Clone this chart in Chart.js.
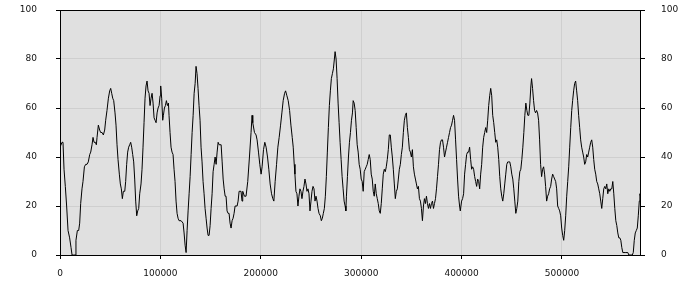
<!DOCTYPE html>
<html>
<head>
<meta charset="utf-8">
<script src="https://cdn.jsdelivr.net/npm/chart.js@4"></script>
<style>
html,body{margin:0;padding:0;background:#fff;}
#c{display:block;}
</style>
</head>
<body>
<canvas id="c" width="700" height="300"></canvas>
<script>
// x positions (data units) and values
const xValues = [
0,2000,3000,4000,5300,6600,8000,9600,11000,12000,13600,15000,15900,17300,18600,19600,20600,21900,22900,24300,
25600,26900,28200,29600,30600,31900,32900,33900,35200,36200,36900,38200,39500,40500,41900,43200,44500,45500,46800,48200,
49500,50500,51500,52500,53500,54800,55800,56800,57800,59100,60100,61100,62100,63100,64500,65400,66400,67400,68400,69400,
70400,71400,72400,73400,74400,75400,76400,77400,78400,79400,80700,81700,82700,83700,84700,85700,86700,87700,88700,89700,
90700,91700,92700,93700,94700,95700,96700,97700,98700,99700,100300,101300,102300,103000,104000,105000,106000,107000,108000,108600,
109600,110600,111600,112600,113600,114600,115600,116600,117600,118600,120600,122600,123600,124600,125600,126600,127600,128600,129600,130600,
131600,132600,133600,134600,135500,136500,137500,138500,139500,140500,141500,142500,143500,144500,145500,146500,147500,148500,149500,150500,
151500,152500,153500,154500,155500,156500,157500,158500,160500,161500,162500,163500,164500,165400,166400,167400,168400,169400,170400,171400,
172400,173400,174400,176400,177400,178400,180300,181300,182000,183700,185300,187000,188700,190300,191300,192000,193700,195300,196300,197700,
199000,200300,201300,202700,204000,205300,206700,208000,209300,210700,212000,213000,214300,215700,217000,218300,219700,221000,222300,223700,
224700,226000,227300,228700,230000,231300,232300,233300,234000,235000,236000,237000,238000,239000,240000,241000,242000,243000,244000,245000,
246000,247000,248000,249000,250000,251000,252000,253000,254000,255000,256000,257000,258000,259300,260300,261300,262300,263300,264300,265300,
266300,267300,268300,269300,270300,271300,272300,273300,274000,275000,276000,277000,278000,279000,280000,281000,282000,283000,284000,284700,
285300,286300,287300,288300,289300,290300,291300,292000,293000,294000,295000,296000,297000,298000,299000,300000,301000,302000,303000,304000,
305000,306000,307000,308000,309000,310000,311000,312000,313000,314000,315000,316000,317000,318000,319000,320000,321000,322000,323000,324000,
325000,326000,327000,328000,329000,330000,331000,332000,333000,334000,335000,336000,337000,338000,339000,340000,341000,342000,343000,344000,
345000,346000,347000,348000,349000,350000,351000,352000,353000,354000,355000,356000,357000,358000,359000,360000,361000,362000,363000,364000,
365000,366000,367000,368000,369000,370000,371000,372000,373000,374000,375000,376000,377000,378000,379000,380000,381000,382000,383000,384000,
385000,386000,387000,388000,389000,390000,391000,392000,393000,394000,395000,396000,397000,398000,398700,400000,401000,402000,403000,404000,
405000,406000,407000,408000,409000,410000,411000,412000,413000,414000,415000,416000,417000,418000,419000,420000,421000,422000,423000,424000,
425000,426000,427000,428000,429000,430000,431000,432000,433000,434000,435000,436000,437000,438000,439000,440000,441000,442000,443000,444000,
445000,446000,447000,448000,449000,450000,451000,452000,453000,454000,455000,456000,457000,458000,459000,460000,461000,462000,463000,464000,
465000,466000,467000,468000,469000,469700,470700,471700,472700,473700,474700,475700,476700,477700,478700,479700,480700,481700,482700,483700,
484700,485700,486700,487700,488700,489700,490700,491700,492700,493700,494700,495700,496700,497700,498700,499700,500700,501700,502700,503700,
504700,505700,506700,507700,508700,509700,510600,511600,512600,513600,514600,515600,516600,517600,518600,519600,520600,521600,522600,523600,
524600,525600,526600,527600,528600,529600,530600,531600,532600,533600,534600,535600,536600,537600,538600,539600,540600,541600,542600,543600,
544600,545600,546600,547600,548600,549600,550600,551600,552600,553600,554600,555600,556600,557600,558600,559600,560600,563600,565600,566600,
570000,571000,572000,573000,574000,575000,576000,577000,577600,578700
];
const seriesValues = [
44,46,46,35,28,20,10,7,3,0,0,0,6,10,10,13,21,27,30,36,
37,37,38,41,42,45,48,46,46,45,48,53,51,50,50,49,51,55,59,64,
67,68,66,64,63,58,53,45,39,33,29,27,23,26,26,30,37,42,44,45,
46,44,41,38,31,22,16,18,19,25,29,35,44,54,64,69,71,67,66,61,
64,66,62,56,55,54,58,60,61,65,69,64,55,57,60,61,63,61,62,57,
50,44,42,41,35,30,22,17,15,14,14,13,9,4,1,10,18,25,32,41,
50,57,66,70,77,74,68,61,55,44,38,30,25,19,15,11,8,8,12,19,
25,34,37,40,37,42,46,45,45,38,31,27,24,24,18,17,17,13,11,14,
15,17,20,20,22,26,26,22,26,24,24,30,40,50,57,54,50,49,47,42,
37,33,36,43,46,44,40,35,29,25,23,22,30,37,44,48,53,58,63,66,
67,65,63,59,53,48,44,37,33,26,25,20,24,27,26,23,26,28,31,29,
26,27,25,18,22,26,28,27,22,24,22,19,17,16,14,15,17,19,24,32,
42,52,61,67,72,74,76,80,83,80,72,62,54,46,39,32,27,22,20,18,
24,32,40,46,50,55,58,63,62,59,52,45,42,37,35,31,30,26,34,35,
36,37,39,41,39,33,31,26,24,29,25,23,21,18,17,21,27,33,35,34,
36,39,43,49,49,44,40,35,29,23,26,27,31,35,37,41,44,50,55,57,
58,52,48,43,42,40,43,36,33,31,29,27,28,23,22,19,14,20,23,21,
24,21,19,21,19,21,22,19,21,23,27,32,37,43,46,47,47,44,40,42,
44,46,48,50,52,53,55,57,55,47,39,31,24,20,18,22,23,25,33,37,
41,42,42,44,39,35,36,35,32,30,28,31,30,27,33,37,44,48,50,52,
50,55,61,65,68,65,57,54,50,46,47,44,39,32,27,24,22,25,29,33,
37,38,38,38,36,33,31,27,22,17,19,22,30,34,35,39,44,50,57,62,
59,57,57,62,69,72,68,63,59,58,59,58,55,47,37,32,35,36,33,28,
22,24,25,27,28,31,33,32,31,30,27,20,19,18,16,11,8,6,10,16,
24,30,36,44,52,59,63,67,70,71,67,63,57,52,47,44,42,40,37,38,
41,40,42,44,46,47,44,39,35,33,30,29,27,25,22,19,23,27,28,27,
29,25,27,26,27,27,30,25,19,14,12,9,7,7,6,3,1,1,1,0,
0,1,6,9,10,11,16,22,25,23
];
const xTicks = [0, 100000, 200000, 300000, 400000, 500000];
const yTicks = [0, 20, 40, 60, 80, 100];

const points = xValues.map((x, i) => ({x: x, y: seriesValues[i]}));

const plotBg = {
  id: 'plotBg',
  beforeDraw(chart) {
    const a = chart.chartArea, ctx = chart.ctx;
    ctx.save();
    ctx.fillStyle = '#e0e0e0';
    ctx.fillRect(a.left, a.top, a.right - a.left, a.bottom - a.top);
    ctx.restore();
  },
  afterDraw(chart) {
    const a = chart.chartArea, ctx = chart.ctx;
    ctx.save();
    ctx.strokeStyle = '#000';
    ctx.lineWidth = 1;
    ctx.strokeRect(a.left + 0.5, a.top + 0.5, a.right - a.left - 1, a.bottom - a.top);
    ctx.restore();
  }
};

const tickFont = {family: 'DejaVu Sans', size: 9};
const noVPad = s => { s.paddingTop = 0; s.paddingBottom = 0; };

new Chart(document.getElementById('c'), {
  type: 'line',
  data: {
    datasets: [{
      data: points,
      borderColor: '#000',
      borderWidth: 1,
      pointRadius: 0,
      tension: 0,
      fill: false
    }]
  },
  options: {
    responsive: false,
    animation: false,
    layout: {padding: {top: 10, left: 0, right: 0, bottom: 0}},
    plugins: {legend: {display: false}, tooltip: {enabled: false}},
    scales: {
      x: {
        type: 'linear',
        position: 'bottom',
        min: 0,
        max: 578700,
        afterBuildTicks: s => { s.ticks = xTicks.map(v => ({value: v})); },
        afterFit: s => { s.height = 45; s.paddingLeft = 0; s.paddingRight = 0; },
        ticks: {
          font: tickFont, color: '#111', padding: 9, maxRotation: 0,
          callback: v => String(v)
        },
        grid: {color: '#cfcfcf', tickColor: '#000', tickLength: 4, lineWidth: 1},
        border: {display: false}
      },
      y: {
        type: 'linear',
        position: 'left',
        min: 0,
        max: 100,
        afterBuildTicks: s => { s.ticks = yTicks.map(v => ({value: v})); },
        afterFit: s => { s.width = 60; noVPad(s); },
        ticks: {font: tickFont, color: '#111', padding: 19},
        grid: {color: '#cfcfcf', tickColor: '#000', tickLength: 4},
        border: {display: false}
      },
      y2: {
        type: 'linear',
        position: 'right',
        min: 0,
        max: 100,
        afterBuildTicks: s => { s.ticks = yTicks.map(v => ({value: v})); },
        afterFit: s => { s.width = 59; noVPad(s); },
        ticks: {font: tickFont, color: '#111', padding: 16},
        grid: {drawOnChartArea: false, tickColor: '#000', tickLength: 4},
        border: {display: false}
      }
    }
  },
  plugins: [plotBg]
});
</script>
</body>
</html>
